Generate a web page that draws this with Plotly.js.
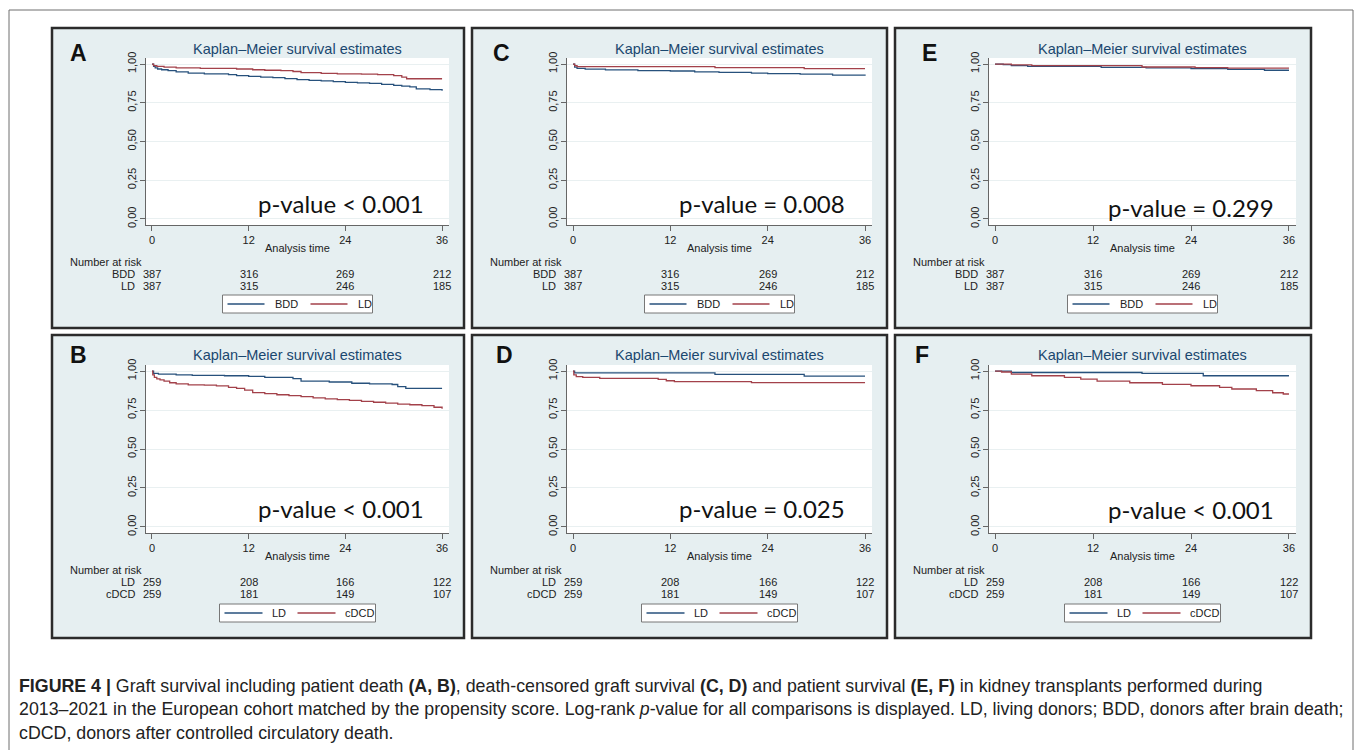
<!DOCTYPE html>
<html>
<head>
<meta charset="utf-8">
<script src="https://cdn.plot.ly/plotly-3.0.1.min.js"></script>
<style>
  html, body { margin: 0; padding: 0; background: #ffffff; }
  #chart { width: 1355px; height: 750px; }
</style>
</head>
<body>
<div id="chart"></div>
<script>
// ---------------- DATA ----------------
const tickMonths = [0, 12, 24, 36];
const yTickVals = [0, 0.25, 0.5, 0.75, 1];
const yTickText = ['0,00', '0,25', '0,50', '0,75', '1,00'];
const panelLetters = ['A', 'B', 'C', 'D', 'E', 'F'];
const pValueText = ['p-value < 0.001', 'p-value < 0.001', 'p-value = 0.008', 'p-value = 0.025', 'p-value = 0.299', 'p-value < 0.001'];
const chartTitle = 'Kaplan–Meier survival estimates';
const xAxisTitle = 'Analysis time';
const riskHeader = 'Number at risk';

// group names per panel (first series blue, second series red)
const groupsTop = ['BDD', 'LD'];
const groupsBottom = ['LD', 'cDCD'];

// Numbers at risk
const riskTop1 = [387, 316, 269, 212];   // BDD
const riskTop2 = [387, 315, 246, 185];   // LD
const riskBot1 = [259, 208, 166, 122];   // LD
const riskBot2 = [259, 181, 149, 107];   // cDCD

// Panel A: graft survival incl. death, BDD vs LD
const aBlueT = [0, 0.2, 0.4, 0.7, 1.2, 2.0, 3.0, 4.5, 6.5, 9.5, 10.5, 12.0, 13.5, 15.0, 16.5, 18.0, 19.5, 21.0, 22.5, 24.0, 25.5, 27.0, 28.5, 30.0, 31.0, 32.0, 32.8, 34.5, 36];
const aBlueS = [1.0, 0.985, 0.975, 0.968, 0.963, 0.958, 0.950, 0.942, 0.937, 0.932, 0.925, 0.921, 0.916, 0.912, 0.906, 0.900, 0.895, 0.891, 0.887, 0.882, 0.879, 0.875, 0.869, 0.862, 0.857, 0.852, 0.840, 0.835, 0.828];
const aRedT = [0, 0.2, 0.6, 1.5, 3.0, 6.0, 10.5, 12.5, 14.0, 16.0, 17.5, 18.5, 21.0, 23.0, 26.0, 28.0, 30.0, 31.0, 31.6, 36];
const aRedS = [1.0, 0.99, 0.985, 0.98, 0.975, 0.972, 0.968, 0.963, 0.960, 0.957, 0.952, 0.944, 0.940, 0.937, 0.935, 0.932, 0.925, 0.915, 0.905, 0.905];

// Panel B: graft survival incl. death, LD vs cDCD
const bBlueT = [0, 0.2, 0.8, 3.0, 5.0, 9.0, 12.0, 14.0, 17.5, 18.5, 22.0, 24.8, 27.0, 29.8, 30.5, 31.5, 36];
const bBlueS = [1.0, 0.985, 0.98, 0.976, 0.973, 0.970, 0.966, 0.960, 0.952, 0.935, 0.930, 0.922, 0.918, 0.914, 0.900, 0.889, 0.889];
const bRedT = [0, 0.1, 0.3, 0.6, 1.0, 1.5, 2.2, 3.0, 4.5, 6.5, 8.0, 9.5, 10.5, 11.5, 12.5, 14.0, 15.5, 17.0, 18.5, 20.0, 21.5, 23.0, 24.5, 26.0, 27.5, 29.0, 30.5, 32.0, 33.5, 35.0, 36];
const bRedS = [1.0, 0.975, 0.96, 0.95, 0.943, 0.935, 0.925, 0.918, 0.912, 0.910, 0.905, 0.895, 0.889, 0.878, 0.862, 0.855, 0.848, 0.843, 0.836, 0.828, 0.822, 0.817, 0.812, 0.806, 0.800, 0.795, 0.788, 0.784, 0.778, 0.768, 0.759];

// Panel C: death-censored graft survival, BDD vs LD
const cBlueT = [0, 0.2, 0.5, 1.5, 4.0, 8.0, 12.0, 15.0, 18.0, 22.0, 24.0, 28.0, 32.0, 36];
const cBlueS = [1.0, 0.98, 0.972, 0.967, 0.962, 0.958, 0.955, 0.950, 0.946, 0.942, 0.938, 0.935, 0.928, 0.925];
const cRedT = [0, 0.2, 0.5, 17.5, 28.5, 36];
const cRedS = [1.0, 0.99, 0.983, 0.977, 0.971, 0.971];

// Panel D: death-censored graft survival, LD vs cDCD
const dBlueT = [0, 0.2, 17.5, 28.5, 36];
const dBlueS = [1.0, 0.989, 0.979, 0.968, 0.968];
const dRedT = [0, 0.1, 0.4, 1.2, 3.3, 10.5, 11.5, 12.5, 22.0, 36];
const dRedS = [1.0, 0.975, 0.965, 0.96, 0.953, 0.947, 0.938, 0.932, 0.926, 0.926];

// Panel E: patient survival, BDD vs LD
const eBlueT = [0, 1.0, 2.0, 4.0, 13.0, 18.5, 24.0, 28.5, 33.0, 36];
const eBlueS = [1.0, 0.996, 0.99, 0.985, 0.979, 0.975, 0.971, 0.966, 0.96, 0.96];
const eRedT = [0, 2.0, 4.5, 18.0, 24.5, 28.5, 36];
const eRedS = [1.0, 0.994, 0.99, 0.981, 0.977, 0.974, 0.974];

// Panel F: patient survival, LD vs cDCD
const fBlueT = [0, 2.0, 18.0, 25.5, 36];
const fBlueS = [1.0, 0.991, 0.985, 0.970, 0.970];
const fRedT = [0, 0.8, 2.0, 4.5, 8.5, 10.5, 12.5, 16.5, 20.5, 24.0, 27.5, 29.0, 32.0, 34.0, 35.3, 36];
const fRedS = [1.0, 0.994, 0.981, 0.970, 0.959, 0.949, 0.936, 0.925, 0.915, 0.906, 0.895, 0.885, 0.874, 0.861, 0.853, 0.853];

const captionLine1 = '<b>FIGURE 4 |</b> Graft survival including patient death <b>(A, B)</b>, death-censored graft survival <b>(C, D)</b> and patient survival <b>(E, F)</b> in kidney transplants performed during';
const captionLine2 = '2013–2021 in the European cohort matched by the propensity score. Log-rank <i>p</i>-value for all comparisons is displayed. LD, living donors; BDD, donors after brain death;';
const captionLine3 = 'cDCD, donors after controlled circulatory death.';

// ---------------- LAYOUT HELPERS ----------------
const W = 1355, H = 750;
const px = v => v / W;
const py = v => 1 - v / H;

const BLUE = '#27517c';
const RED = '#a3414a';
const PANEL_BG = '#e6eff1';
const FONT = 'Liberation Sans, Arial, sans-serif';

// panel order: A,B,C,D,E,F  -> (col,row)
const panelCol = [0, 0, 1, 1, 2, 2];
const panelRow = [0, 1, 0, 1, 0, 1];
const panelBoxX = [[52, 464], [472, 887], [895, 1311]];
const panelBoxY = [[28, 328], [335, 638]];
const plotX = [[146, 449], [567, 872], [989, 1296]];
const plotY = [[58, 225], [365, 533]];
const titleY = [49, 355];
const letterX = [68, 68, 491, 494, 920, 913];
const letterY = [53, 355];
const analysisY = [248, 556];
const riskHeadY = [262, 570];
const risk1Y = [274, 582];
const risk2Y = [286, 594];
const legendY = [304, 613];
const riskHeadX = [68, 488, 911];
const riskLabelX = [137, 558, 980];
const pvalX = [23.4, 23.4, 23.3, 23.3, 24.0, 24.0];
const pvalY = [0.10, 0.12, 0.10, 0.12, 0.077, 0.115];
// legend geometry relative to plot-area centre: [boxHalf, l1a, l1b, t1, l2a, l2b, t2]
const legendGeom = [[75, -70, -33, -25, 13, 50, 58], [78, -73, -35, -28, 0, 38, 45]];

const series = [
  [aBlueT, aBlueS, aRedT, aRedS],
  [bBlueT, bBlueS, bRedT, bRedS],
  [cBlueT, cBlueS, cRedT, cRedS],
  [dBlueT, dBlueS, dRedT, dRedS],
  [eBlueT, eBlueS, eRedT, eRedS],
  [fBlueT, fBlueS, fRedT, fRedS]
];

const traces = [];
const layout = {
  width: W, height: H,
  margin: {l: 0, r: 0, t: 0, b: 0},
  paper_bgcolor: '#ffffff',
  plot_bgcolor: 'rgba(0,0,0,0)',
  font: {family: FONT, color: '#222'},
  showlegend: false,
  shapes: [],
  annotations: []
};

// outer figure border
layout.shapes.push({type: 'rect', xref: 'paper', yref: 'paper', layer: 'below',
  x0: px(9), x1: px(1353), y0: py(770), y1: py(10),
  line: {color: '#6e6e6e', width: 1}, fillcolor: 'rgba(0,0,0,0)'});

const txt = (size, color) => ({size: size, color: color || '#222', family: FONT});

for (let i = 0; i < 6; i++) {
  const c = panelCol[i], r = panelRow[i];
  const suffix = i === 0 ? '' : String(i + 1);
  const xa = 'xaxis' + suffix, ya = 'yaxis' + suffix;
  const xr = 'x' + suffix, yr = 'y' + suffix;
  const groups = r === 0 ? groupsTop : groupsBottom;
  const risk1 = r === 0 ? riskTop1 : riskBot1;
  const risk2 = r === 0 ? riskTop2 : riskBot2;

  // panel background and border
  layout.shapes.push({type: 'rect', xref: 'paper', yref: 'paper', layer: 'below',
    x0: px(panelBoxX[c][0]), x1: px(panelBoxX[c][1]), y0: py(panelBoxY[r][1]), y1: py(panelBoxY[r][0]),
    fillcolor: PANEL_BG, line: {color: '#2b2b2b', width: 2.5}});
  // white plot region
  layout.shapes.push({type: 'rect', xref: 'paper', yref: 'paper', layer: 'below',
    x0: px(plotX[c][0]), x1: px(plotX[c][1]), y0: py(plotY[r][1]), y1: py(plotY[r][0]),
    fillcolor: '#ffffff', line: {width: 0}});

  layout[xa] = {
    domain: [px(plotX[c][0]), px(plotX[c][1])],
    anchor: yr,
    range: [-0.74, 36.86],
    tickvals: tickMonths,
    ticktext: tickMonths.map(String),
    ticks: 'outside', ticklen: 5, tickcolor: '#666', tickwidth: 1,
    showline: true, linecolor: '#666', linewidth: 1,
    showgrid: false, zeroline: false,
    tickfont: txt(11),
    fixedrange: true
  };
  layout[ya] = {
    domain: [py(plotY[r][1]), py(plotY[r][0])],
    anchor: xr,
    range: [-0.039, 1.039],
    tickvals: yTickVals,
    ticktext: yTickText,
    tickangle: -90,
    ticks: 'outside', ticklen: 5, tickcolor: '#666', tickwidth: 1,
    showline: true, linecolor: '#666', linewidth: 1,
    showgrid: true, gridcolor: '#e9f0f1', gridwidth: 1,
    zeroline: false,
    tickfont: txt(11),
    fixedrange: true
  };

  const s = series[i];
  traces.push({type: 'scatter', mode: 'lines', x: s[0], y: s[1], xaxis: xr, yaxis: yr,
    line: {shape: 'hv', color: BLUE, width: 1.3}, name: groups[0], hoverinfo: 'skip'});
  traces.push({type: 'scatter', mode: 'lines', x: s[2], y: s[3], xaxis: xr, yaxis: yr,
    line: {shape: 'hv', color: RED, width: 1.3}, name: groups[1], hoverinfo: 'skip'});

  const cxPx = (plotX[c][0] + plotX[c][1]) / 2;
  const centerX = px(cxPx);

  // legend (box, sample lines, labels)
  const g = legendGeom[r];
  const ly = legendY[r];
  layout.shapes.push({type: 'rect', xref: 'paper', yref: 'paper', layer: 'above',
    x0: px(cxPx - g[0]), x1: px(cxPx + g[0]), y0: py(ly + 9), y1: py(ly - 9),
    fillcolor: '#ffffff', line: {color: '#777', width: 1}});
  layout.shapes.push({type: 'line', xref: 'paper', yref: 'paper', layer: 'above',
    x0: px(cxPx + g[1]), x1: px(cxPx + g[2]), y0: py(ly), y1: py(ly),
    line: {color: BLUE, width: 1.3}});
  layout.shapes.push({type: 'line', xref: 'paper', yref: 'paper', layer: 'above',
    x0: px(cxPx + g[4]), x1: px(cxPx + g[5]), y0: py(ly), y1: py(ly),
    line: {color: RED, width: 1.3}});
  layout.annotations.push({xref: 'paper', yref: 'paper', x: px(cxPx + g[3]), y: py(ly),
    xanchor: 'left', yanchor: 'middle', showarrow: false, text: groups[0], font: txt(11)});
  layout.annotations.push({xref: 'paper', yref: 'paper', x: px(cxPx + g[6]), y: py(ly),
    xanchor: 'left', yanchor: 'middle', showarrow: false, text: groups[1], font: txt(11)});

  // title
  layout.annotations.push({xref: 'paper', yref: 'paper', x: centerX, y: py(titleY[r]),
    xanchor: 'center', yanchor: 'middle', showarrow: false, text: chartTitle,
    font: txt(14.5, '#1a476f')});
  // panel letter
  layout.annotations.push({xref: 'paper', yref: 'paper', x: px(letterX[i]), y: py(letterY[r]),
    xanchor: 'left', yanchor: 'middle', showarrow: false, text: '<b>' + panelLetters[i] + '</b>',
    font: txt(23, '#111')});
  // x axis title
  layout.annotations.push({xref: xr, yref: 'paper', x: 18, y: py(analysisY[r]),
    xanchor: 'center', yanchor: 'middle', showarrow: false, text: xAxisTitle, font: txt(11)});
  // p-value
  layout.annotations.push({xref: xr, yref: yr, x: pvalX[i], y: pvalY[i],
    xanchor: 'center', yanchor: 'middle', showarrow: false, text: pValueText[i],
    font: {size: 24, color: '#111', family: 'Lato, Noto Sans, sans-serif'}});
  // number at risk table
  layout.annotations.push({xref: 'paper', yref: 'paper', x: px(riskHeadX[c]), y: py(riskHeadY[r]),
    xanchor: 'left', yanchor: 'middle', showarrow: false, text: riskHeader, font: txt(11)});
  layout.annotations.push({xref: 'paper', yref: 'paper', x: px(riskLabelX[c]), y: py(risk1Y[r]),
    xanchor: 'right', yanchor: 'middle', showarrow: false, text: groups[0], font: txt(11)});
  layout.annotations.push({xref: 'paper', yref: 'paper', x: px(riskLabelX[c]), y: py(risk2Y[r]),
    xanchor: 'right', yanchor: 'middle', showarrow: false, text: groups[1], font: txt(11)});
  for (let k = 0; k < tickMonths.length; k++) {
    layout.annotations.push({xref: xr, yref: 'paper', x: tickMonths[k], y: py(risk1Y[r]),
      xanchor: 'center', yanchor: 'middle', showarrow: false, text: String(risk1[k]), font: txt(11)});
    layout.annotations.push({xref: xr, yref: 'paper', x: tickMonths[k], y: py(risk2Y[r]),
      xanchor: 'center', yanchor: 'middle', showarrow: false, text: String(risk2[k]), font: txt(11)});
  }
}

// caption
const capFont = {size: 17.8, color: '#222', family: FONT};
[[captionLine1, 686], [captionLine2, 709], [captionLine3, 733]].forEach(([t, y]) => {
  layout.annotations.push({xref: 'paper', yref: 'paper', x: px(17), y: py(y),
    xanchor: 'left', yanchor: 'middle', showarrow: false, text: t, font: capFont, align: 'left'});
});

Plotly.newPlot('chart', traces, layout, {staticPlot: true, displayModeBar: false});
</script>
</body>
</html>
